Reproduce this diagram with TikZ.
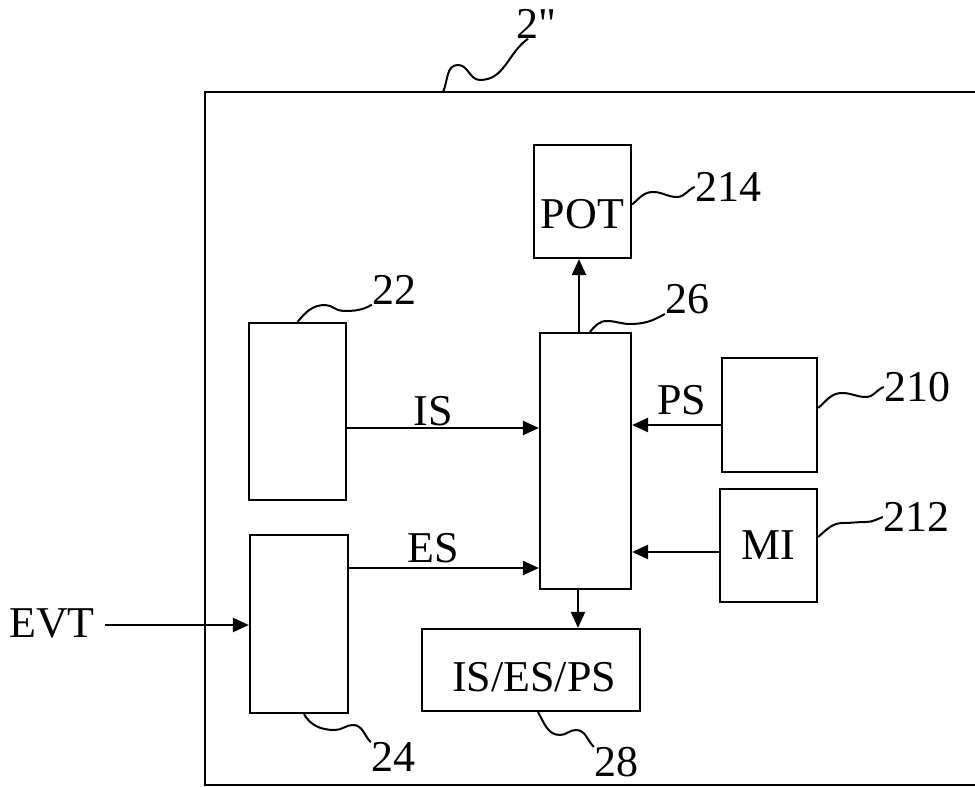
\documentclass[tikz,border=0pt]{standalone}
\usepackage{fontspec}
\setmainfont{Liberation Serif}
\newfontfamily\refnum[Ligatures=TeXOff]{Liberation Serif}
\usetikzlibrary{arrows.meta,positioning}
\tikzset{
  blk/.style={draw,line width=2.2pt,inner sep=0pt,font=\fontsize{44}{52}\selectfont},
  flow/.style={-{Triangle[length=16pt,width=14pt]},line width=2.2pt},
  lbl/.style={font=\fontsize{44}{52}\selectfont,inner sep=0pt},
  lead/.style={line width=2pt},
  frame/.style={line width=2.2pt},
}

\begin{document}
\begin{tikzpicture}[x=1pt,y=1pt]
  \useasboundingbox (0,0) rectangle (975,787);

  % cadrul 2'' (deschis spre dreapta)
  \draw[frame] (975,695) -- (205,695) -- (205,2) -- (975,2);

  % blocuri
  \node[blk,minimum width=97,minimum height=177] (b22) at (297.5,375.5) {};
  \node[blk,minimum width=98,minimum height=178] (b24) at (299,163) {};
  \node[blk,minimum width=91,minimum height=256] (b26) at (585.5,326) {};
  \node[blk,minimum width=97,minimum height=113] (pot) at (582.5,585.5) {};
  \node[lbl] (tpot) at (582.5,573) {POT};
  \node[blk,minimum width=95,minimum height=114] (b210) at (769.5,372) {};
  \node[blk,minimum width=97,minimum height=113] (mi) at (768.5,241.5) {MI};
  \node[blk,minimum width=218,minimum height=82] (b28) at (531,117) {};
  \node[lbl] (t28) at (534,110) {IS/ES/PS};

  % etichete de semnal
  \node[lbl] (lis) at (433,376) {IS};
  \node[lbl] (les) at (433,239) {ES};
  \node[lbl] (lps) at (682,387) {PS};
  \node[lbl] (lev) at (52,164) {EVT};

  % numere de referinta
  \node[lbl] (l2)   at (536,763) {\refnum 2"};
  \node[lbl] (l22)  at (394,497) {22};
  \node[lbl] (l26)  at (687,488) {26};
  \node[lbl] (l214) at (728,600) {214};
  \node[lbl] (l210) at (917,400) {210};
  \node[lbl] (l212) at (916,270) {212};
  \node[lbl] (l24)  at (393,30) {24};
  \node[lbl] (l28)  at (616,25) {28};

  % sageti
  \draw[flow] ([yshift=-16.5]b22.east) -- ([yshift=-16.5]b22.east -| b26.west);
  \draw[flow] ([yshift=56]b24.east) -- ([yshift=56]b24.east -| b26.west);
  \draw[flow] ([xshift=10,yshift=-2]lev.east) -- ([yshift=-2]lev.east -| b24.west);
  \draw[flow] ([yshift=-10]b210.west) -- ([yshift=-10]b210.west -| b26.east);
  \draw[flow] ([yshift=-6.5]mi.west) -- ([yshift=-6.5]mi.west -| b26.east);
  \draw[flow] ([xshift=-3.5]pot.south |- b26.north) -- ([xshift=-3.5]pot.south);
  \draw[flow] ([xshift=-7.5]b26.south) -- ([xshift=-7.5]b26.south |- b28.north);

  % linii de indicatie
  \draw[lead] (443,695) to[out=65,in=180] (458,722) to[out=0,in=180] (480,707)
    to[out=0,in=215] ([xshift=-8]l2.south);
  \draw[lead] (b22.north) to[out=50,in=180] (325,482) to[out=0,in=180] (343,476)
    to[out=0,in=210] (l22.south west);
  \draw[lead] ([xshift=4.5]b26.north) to[out=50,in=180] (607,466) to[out=0,in=180] (630,463)
    to[out=0,in=210] (l26.south west);
  \draw[lead] ([yshift=-3]pot.east) to[out=40,in=180] (653,595) to[out=0,in=180] (677,590)
    to[out=0,in=200] (l214.west);
  \draw[lead] ([yshift=7]b210.east) to[out=40,in=180] (842,394) to[out=0,in=180] (866,390)
    to[out=0,in=200] (l210.west);
  \draw[lead] ([yshift=8.5]mi.east) to[out=40,in=180] (843,264) to[out=0,in=180] (866,265)
    to[out=0,in=200] (l212.west);
  \draw[lead] ([xshift=5]b24.south) to[out=-60,in=180] (335,57) to[out=0,in=180] (353,62)
    to[out=0,in=135] (l24.north west);
  \draw[lead] ([xshift=7]b28.south) to[out=-60,in=180] (560,52) to[out=0,in=180] (576,57)
    to[out=0,in=135] (l28.north west);
\end{tikzpicture}
\end{document}
